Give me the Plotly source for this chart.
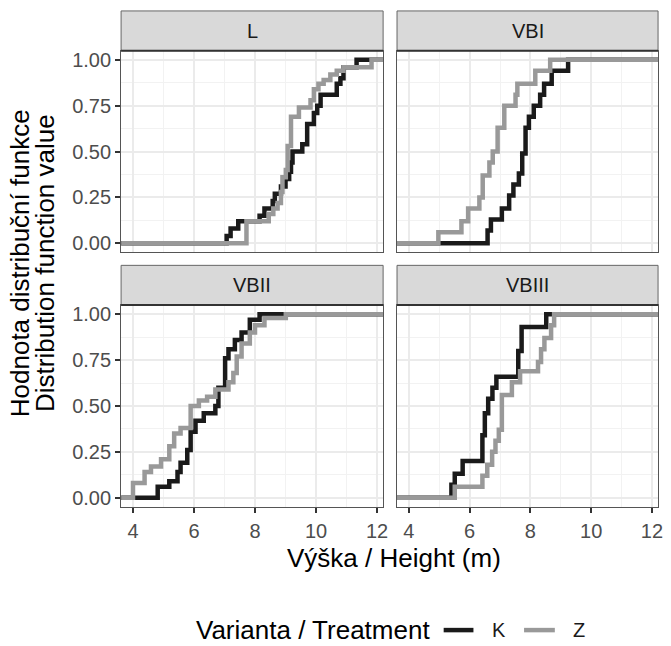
import plotly.graph_objects as go

W, H = 671, 646

panels = ["L", "VBI", "VBII", "VBIII"]

# ECDF step positions (height, m) and cumulative values
L_K_x = [7.07, 7.2, 7.45, 8.15, 8.31, 8.58, 8.65, 8.85, 9.0, 9.12, 9.18, 9.23, 9.55, 9.71, 9.93, 10.04, 10.15, 10.68, 10.8, 10.9, 11.33]
L_K_F = [0.04, 0.08, 0.12, 0.15, 0.19, 0.23, 0.27, 0.31, 0.35, 0.39, 0.44, 0.50, 0.54, 0.65, 0.71, 0.75, 0.81, 0.87, 0.90, 0.96, 1.0]
L_Z_x = [7.72, 8.45, 8.6, 8.74, 8.85, 8.9, 9.01, 9.07, 9.18, 9.44, 9.82, 9.93, 10.08, 10.25, 10.47, 10.68, 10.9, 11.82]
L_Z_F = [0.12, 0.16, 0.19, 0.22, 0.28, 0.36, 0.40, 0.53, 0.69, 0.74, 0.78, 0.84, 0.87, 0.89, 0.92, 0.94, 0.96, 1.0]

VBI_K_x = [6.59, 6.70, 7.06, 7.30, 7.44, 7.62, 7.73, 7.84, 7.95, 8.11, 8.32, 8.45, 8.70, 9.24]
VBI_K_F = [0.07, 0.13, 0.19, 0.26, 0.32, 0.38, 0.49, 0.63, 0.69, 0.75, 0.81, 0.87, 0.94, 1.0]
VBI_Z_x = [4.97, 5.73, 5.95, 6.32, 6.43, 6.65, 6.76, 6.92, 7.14, 7.51, 7.57, 8.16, 8.65]
VBI_Z_F = [0.06, 0.12, 0.19, 0.25, 0.37, 0.44, 0.50, 0.63, 0.75, 0.81, 0.87, 0.94, 1.0]

VBII_K_x = [4.81, 5.19, 5.46, 5.56, 5.78, 5.89, 6.05, 6.32, 6.70, 6.80, 7.02, 7.13, 7.34, 7.56, 7.83, 8.15]
VBII_K_F = [0.06, 0.09, 0.14, 0.19, 0.26, 0.36, 0.42, 0.46, 0.50, 0.60, 0.76, 0.81, 0.86, 0.90, 0.97, 1.0]
VBII_Z_x = [4.0, 4.38, 4.59, 4.92, 5.19, 5.35, 5.56, 5.89, 6.16, 6.43, 6.70, 7.13, 7.29, 7.40, 7.56, 7.83, 8.0, 8.31, 9.01]
VBII_Z_F = [0.08, 0.14, 0.17, 0.21, 0.28, 0.35, 0.38, 0.50, 0.53, 0.55, 0.59, 0.63, 0.68, 0.77, 0.84, 0.90, 0.94, 0.98, 1.0]

VBIII_K_x = [5.40, 5.51, 5.77, 6.42, 6.50, 6.61, 6.75, 6.88, 7.60, 7.71, 8.52]
VBIII_K_F = [0.07, 0.13, 0.20, 0.34, 0.46, 0.54, 0.60, 0.66, 0.80, 0.93, 1.0]
VBIII_Z_x = [5.51, 6.42, 6.58, 6.74, 6.85, 6.96, 7.06, 7.39, 7.66, 8.25, 8.35, 8.46, 8.68, 8.78]
VBIII_Z_F = [0.06, 0.12, 0.18, 0.25, 0.31, 0.37, 0.56, 0.63, 0.69, 0.74, 0.81, 0.87, 0.94, 1.0]

series = {
    "L": {"K": (L_K_x, L_K_F), "Z": (L_Z_x, L_Z_F)},
    "VBI": {"K": (VBI_K_x, VBI_K_F), "Z": (VBI_Z_x, VBI_Z_F)},
    "VBII": {"K": (VBII_K_x, VBII_K_F), "Z": (VBII_Z_x, VBII_Z_F)},
    "VBIII": {"K": (VBIII_K_x, VBIII_K_F), "Z": (VBIII_Z_x, VBIII_Z_F)},
}

treatments = ["K", "Z"]
colors = {"K": "#1a1a1a", "Z": "#999999"}

x_ticks = [4, 6, 8, 10, 12]
y_ticks = [0, 0.25, 0.5, 0.75, 1.0]
y_ticktext = ["0.00", "0.25", "0.50", "0.75", "1.00"]

X_RANGE = [3.61, 12.2]
Y_RANGE = [-0.05, 1.05]

FONT = "Liberation Sans, Arial, sans-serif"

# panel pixel boxes (left, right, top, bottom) and strip tops
xdom = {0: (122, 386), 1: (400, 663)}
ydom = {0: (49, 252), 1: (305, 508)}
strip_top = {0: 9, 1: 265}

def px_x(v):
    return v / W

def px_y(v):
    return 1 - v / H

fig = go.Figure()

for i, p in enumerate(panels):
    row, col = divmod(i, 2)
    ax = "" if i == 0 else str(i + 1)
    for t in treatments:
        xs, fs = series[p][t]
        fig.add_trace(go.Scatter(
            x=[X_RANGE[0]] + xs + [X_RANGE[1]],
            y=[0] + fs + [1],
            mode="lines", line_shape="hv",
            line=dict(color=colors[t], width=4.5),
            name=t, legendgroup=t, showlegend=False,
            xaxis="x" + ax, yaxis="y" + ax,
        ))
    l, r = xdom[col]
    tp, bt = ydom[row]
    xa = dict(
        domain=[px_x(l), px_x(r)], range=X_RANGE, anchor="y" + ax,
        tickvals=x_ticks, ticks="outside" if row == 1 else "",
        showticklabels=(row == 1), ticklen=5, tickwidth=1.5, tickcolor="#333333",
        tickfont=dict(size=20, color="#4d4d4d", family=FONT),
        ticklabelstandoff=1, ticklabeloverflow="allow",
        showgrid=True, gridcolor="#ebebeb", gridwidth=1.5,
        minor=dict(dtick=1, tick0=0, showgrid=True, gridcolor="#f2f2f2", gridwidth=1),
        showline=True, mirror=True, linecolor="#555555", linewidth=1,
        zeroline=False, fixedrange=True,
    )
    ya = dict(
        domain=[px_y(bt), px_y(tp)], range=Y_RANGE, anchor="x" + ax,
        tickvals=y_ticks, ticktext=y_ticktext, ticks="outside" if col == 0 else "",
        showticklabels=(col == 0), ticklen=5, tickwidth=1.5, tickcolor="#333333",
        tickfont=dict(size=20, color="#4d4d4d", family=FONT),
        ticklabeloverflow="allow",
        showgrid=True, gridcolor="#ebebeb", gridwidth=1.5,
        minor=dict(dtick=0.125, tick0=0, showgrid=True, gridcolor="#f2f2f2", gridwidth=1),
        showline=True, mirror=True, linecolor="#555555", linewidth=1,
        zeroline=False, fixedrange=True,
    )
    fig.update_layout(**{"xaxis" + ax: xa, "yaxis" + ax: ya})
    # strip
    fig.add_shape(type="rect", xref="paper", yref="paper",
                  x0=px_x(l), x1=px_x(r), y0=px_y(tp), y1=px_y(strip_top[row]),
                  fillcolor="#d9d9d9", line=dict(color="#666666", width=1), layer="above")
    fig.add_shape(type="line", xref="paper", yref="paper",
                  x0=px_x(l), x1=px_x(r), y0=px_y(tp), y1=px_y(tp),
                  line=dict(color="#333333", width=2), layer="above")
    fig.add_annotation(text=p, xref="paper", yref="paper",
                       x=px_x((l + r) / 2), y=px_y((tp + strip_top[row]) / 2),
                       showarrow=False, xanchor="center", yanchor="middle",
                       font=dict(size=20, color="#1a1a1a", family=FONT))

# axis titles
fig.add_annotation(text="Výška / Height (m)", xref="paper", yref="paper",
                   x=px_x(397), y=px_y(559), showarrow=False,
                   xanchor="center", yanchor="middle",
                   font=dict(size=26, color="black", family=FONT))
fig.add_annotation(text="Hodnota distribuční funkce", xref="paper", yref="paper",
                   x=px_x(21), y=px_y(263), showarrow=False, textangle=-90,
                   xanchor="center", yanchor="middle",
                   font=dict(size=26, color="black", family=FONT))
fig.add_annotation(text="Distribution function value", xref="paper", yref="paper",
                   x=px_x(46), y=px_y(263), showarrow=False, textangle=-90,
                   xanchor="center", yanchor="middle",
                   font=dict(size=26, color="black", family=FONT))

# legend (drawn as keys + labels)
LEG_Y = 632
fig.add_annotation(text="Varianta / Treatment", xref="paper", yref="paper",
                   x=px_x(195), y=px_y(LEG_Y), showarrow=False,
                   xanchor="left", yanchor="middle",
                   font=dict(size=26, color="black", family=FONT))
legend_keys = {"K": (447, 477, 494), "Z": (528, 559, 575)}
for t in treatments:
    x0, x1, xl = legend_keys[t]
    fig.add_shape(type="line", xref="paper", yref="paper",
                  x0=px_x(x0), x1=px_x(x1), y0=px_y(LEG_Y), y1=px_y(LEG_Y),
                  line=dict(color=colors[t], width=4.5))
    fig.add_annotation(text=t, xref="paper", yref="paper",
                       x=px_x(xl), y=px_y(LEG_Y), showarrow=False,
                       xanchor="left", yanchor="middle",
                       font=dict(size=20, color="#1a1a1a", family=FONT))

fig.update_layout(
    width=W, height=H,
    margin=dict(l=0, r=0, t=0, b=0),
    paper_bgcolor="white", plot_bgcolor="white",
    font=dict(family=FONT),
    showlegend=False,
)

fig.write_html("out.html", config={"displayModeBar": False},
               post_script="document.body.style.margin='0';")
